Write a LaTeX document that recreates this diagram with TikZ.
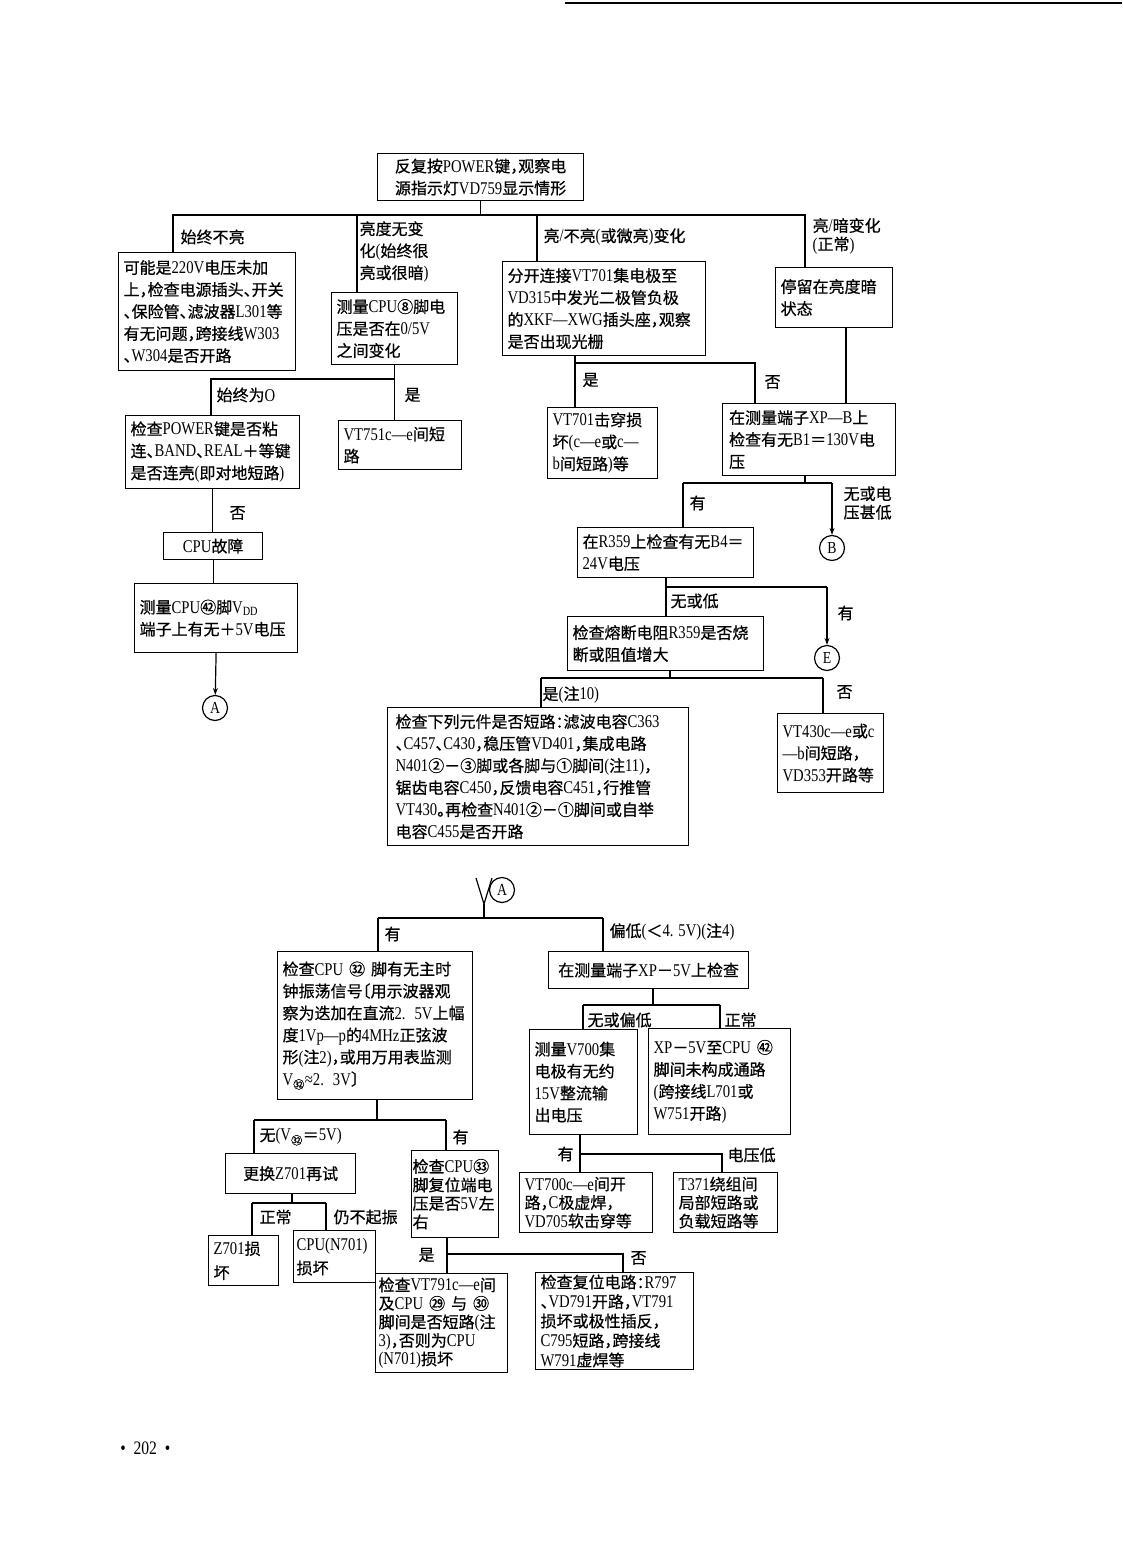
\documentclass[tikz,border=0pt]{standalone}
\usepackage{fontspec}
\setmainfont{Liberation Serif}[Scale=1.12, FakeStretch=0.82]
\newfontfamily\cjk{Noto Sans CJK SC}[RawFeature=+halt, FakeBold=0.6]
\usetikzlibrary{arrows.meta}

%%% CJK characters switch to \cjk, the rest stays in the main font
\newXeTeXintercharclass\cjkclass
\XeTeXinterchartokenstate=1
\newcount\cc
\def\setcjk#1#2{\cc=#1 \loop\XeTeXcharclass\cc=\cjkclass\ifnum\cc<#2 \advance\cc by 1 \repeat}
\setcjk{"4E00}{"9FFF}
\setcjk{"3000}{"303F}
\setcjk{"FF00}{"FFEF}
\setcjk{"2460}{"24FF}
\setcjk{"3200}{"32FF}
\XeTeXinterchartoks 0 \cjkclass = {\cjk}
\XeTeXinterchartoks 4095 \cjkclass = {\cjk}
\XeTeXinterchartoks \cjkclass 0 = {\rmfamily}
\XeTeXinterchartoks \cjkclass 4095 = {\rmfamily}

\newcommand\boxfont{\fontsize{16}{22}\selectfont}
\newcommand\tightfont{\fontsize{16}{18.5}\selectfont}

\begin{document}
\begin{tikzpicture}[%
	x=1pt, y=-1pt,%
	line width=1.2pt,%
	box/.style={draw, anchor=north west, align=left, inner xsep=5pt, inner ysep=2pt, font=\boxfont},%
	cbox/.style={box, align=center},%
	tight/.style={font=\tightfont},%
	lab/.style={anchor=west, inner sep=0pt, align=left, font=\boxfont},%
	joint/.style={circle, draw, minimum size=25pt, inner sep=0pt, font=\fontsize{15}{15}\selectfont},%
	arr/.style={-{Stealth[length=7pt,width=5pt]}},%
	]
\useasboundingbox (0,0) rectangle (1122,1568);
\coordinate (rl) at (565,3);
\coordinate (rr) at (1122,3);
\draw[line width=1.5pt] (rl) -- (rr);
%%% top
	\node[cbox, text width=196pt, minimum height=47pt] (top) at (377,153) {反复按POWER键，观察电\\源指示灯VD759显示情形};
	\node[box, text width=167pt, minimum height=118pt] (nolight) at (118,252) {可能是220V电压未加\\上，检查电源插头、开关\\、保险管、滤波器L301等\\有无问题，跨接线W303\\、W304是否开路};
	\node[box, text width=116pt, minimum height=72pt] (pin8) at (331,292) {测量CPU⑧脚电\\压是否在0/5V\\之间变化};
	\node[box, text width=193pt, minimum height=94pt] (split) at (502,261) {分开连接VT701集电极至\\VD315中发光二极管负极\\的XKF—XWG插头座，观察\\是否出现光栅};
	\node[box, text width=107pt, minimum height=60pt] (dim) at (775,267) {停留在亮度暗\\状态};
	\node[lab] (l1) at (180,237) {始终不亮};
	\node[lab] (l2) at (359,252) {亮度无变\\化(始终很\\亮或很暗)};
	\node[lab] (l3) at (543,237) {亮/不亮(或微亮)变化};
	\node[lab, tight] (l4) at (812,236) {亮/暗变化\\(正常)};
	\coordinate (t1) at (173,215);
	\coordinate (t2) at (357,215);
	\coordinate (t3) at (537,215);
	\coordinate (t4) at (805,215);
	\foreach \co/\nd in {t1/nolight,t2/pin8,t3/split,t4/dim}
		{\draw (top.south) |- (\co) -- (\nd.north -| \co);}
%%% top
%%% left branch
	\node[box, text width=164pt, minimum height=73pt] (power) at (125,415) {检查POWER键是否粘\\连、BAND、REAL＋等键\\是否连壳(即对地短路)};
	\node[box, text width=113pt, minimum height=49pt] (vt751) at (338,420) {VT751c—e间短\\路};
	\node[cbox, text width=89pt, minimum height=27pt] (cpufault) at (163,532) {CPU故障};
	\node[box, text width=153pt, minimum height=69pt] (vdd) at (134,583) {测量CPU㊷脚V\textsubscript{DD}\\端子上有无＋5V电压};
	\node[joint] (cirA) at (215,708) {A};
	\node[lab] (l5) at (216,395) {始终为O};
	\node[lab] (l6) at (404,395) {是};
	\node[lab] (l7) at (229,513) {否};
	\coordinate (p1) at (211,379);
	\draw (pin8.south) |- (p1) -- (power.north -| p1);
	\draw (pin8.south) -- (vt751.north -| pin8.south);
	\draw (power.south) -- (cpufault.north -| power.south);
	\draw (cpufault.south) -- (vdd.north -| cpufault.south);
	\draw[arr] (vdd.south) -- (cirA);
%%% left branch
%%% right branch
	\node[box, text width=100pt, minimum height=71pt] (vt701) at (547,407) {VT701击穿损\\坏(c—e或c—\\b间短路)等};
	\node[box, text width=160pt, minimum height=72pt, inner xsep=6.5pt] (xpb) at (722,403) {在测量端子XP—B上\\检查有无B1＝130V电\\压};
	\node[lab] (l8) at (582,380) {是};
	\node[lab] (l9) at (764,382) {否};
	\coordinate (s1) at (575,363);
	\coordinate (s2) at (755,363);
	\coordinate (dm) at (846,340);
	\draw (split.south -| s1) -- (s1) -- (s2) -- (xpb.north -| s2);
	\draw (s1) -- (vt701.north -| s1);
	\draw (dim.south -| dm) -- (xpb.north -| dm);
	%
	\node[box, text width=166pt, minimum height=50pt] (r359) at (577,527) {在R359上检查有无B4＝\\24V电压};
	\node[joint] (cirB) at (832,548) {B};
	\node[lab] (l10) at (689,503) {有};
	\node[lab, tight] (l11) at (843,503) {无或电\\压甚低};
	\coordinate (x0) at (805,483);
	\coordinate (x1) at (683,483);
	\coordinate (x2) at (832,483);
	\draw (xpb.south -| x0) -- (x0);
	\draw (x1) -- (x2);
	\draw (x1) -- (r359.north -| x1);
	\draw[arr] (x2) -- (cirB);
	%
	\node[box, text width=186pt, minimum height=54pt] (fuse) at (567,616) {检查熔断电阻R359是否烧\\断或阻值增大};
	\node[joint] (cirE) at (827,658) {E};
	\node[lab] (l12) at (670,601) {无或低};
	\node[lab] (l13) at (837,613) {有};
	\coordinate (r1) at (666,587);
	\coordinate (r2) at (827,587);
	\draw (r359.south -| r1) -- (fuse.north -| r1);
	\draw (r1) -- (r2);
	\draw[arr] (r2) -- (cirE);
	%
	\node[box, text width=285pt, minimum height=138pt, inner xsep=8pt] (parts) at (387,707) {检查下列元件是否短路：滤波电容C363\\、C457、C430，稳压管VD401，集成电路\\N401②－③脚或各脚与①脚间(注11)，\\锯齿电容C450，反馈电容C451，行推管\\VT430。再检查N401②－①脚间或自举\\电容C455是否开路};
	\node[box, text width=96pt, minimum height=79pt] (vt430) at (777,713) {VT430c—e或c\\—b间短路，\\VD353开路等};
	\node[lab] (l14) at (542,695) {是(注10)};
	\node[lab] (l15) at (836,692) {否};
	\coordinate (f0) at (670,678);
	\coordinate (f1) at (541,678);
	\coordinate (f2) at (823,678);
	\draw (fuse.south -| f0) -- (f0);
	\draw (f1) -- (f2);
	\draw (f1) -- (parts.north -| f1);
	\draw (f2) -- (vt430.north -| f2);
%%% right branch
%%% from A
	\node[joint] (cirA2) at (502,890) {A};
	\coordinate (ya) at (476,878);
	\coordinate (yb) at (492,878);
	\coordinate (yj) at (484,904);
	\draw (ya) -- (yj) -- (yb);
	\node[box, text width=185pt, minimum height=148pt] (clk) at (277,951) {检查CPU ㉜ 脚有无主时\\钟振荡信号〔用示波器观\\察为迭加在直流2. 5V上幅\\度1Vp—p的4MHz正弦波\\形(注2)，或用万用表监测\\V\textsubscript{㉜}≈2. 3V〕};
	\node[cbox, text width=190pt, minimum height=37pt] (xp5v) at (548,951) {在测量端子XP－5V上检查};
	\node[lab] (l16) at (384,934) {有};
	\node[lab] (l17) at (609,932) {偏低(＜4. 5V)(注4)};
	\coordinate (q1) at (378,918);
	\coordinate (q2) at (603,918);
	\draw (yj) -- (yj |- q1);
	\draw (q1) -- (q2);
	\draw (q1) -- (clk.north -| q1);
	\draw (q2) -- (xp5v.north -| q2);
	%
	\node[box, text width=98pt, minimum height=105pt] (v700) at (529,1029) {测量V700集\\电极有无约\\15V整流输\\出电压};
	\node[box, text width=132pt, minimum height=106pt] (xp42) at (648,1028) {XP－5V至CPU ㊷\\脚间未构成通路\\(跨接线L701或\\W751开路)};
	\node[lab] (l18) at (587,1020) {无或偏低};
	\node[lab] (l19) at (724,1020) {正常};
	\coordinate (u0) at (653,1005);
	\coordinate (u1) at (583,1005);
	\coordinate (u2) at (720,1005);
	\draw (xp5v.south -| u0) -- (u0);
	\draw (u1) -- (u2);
	\draw (u1) -- (v700.north -| u1);
	\draw (u2) -- (xp42.north -| u2);
	%
	\node[box, tight, text width=123pt, minimum height=60pt] (vt700) at (519,1172) {VT700c—e间开\\路，C极虚焊，\\VD705软击穿等};
	\node[box, tight, text width=94pt, minimum height=60pt] (t371) at (673,1172) {T371绕组间\\局部短路或\\负载短路等};
	\node[lab] (l20) at (557,1154) {有};
	\node[lab] (l21) at (727,1155) {电压低};
	\coordinate (w1) at (580,1154);
	\coordinate (w2) at (722,1154);
	\draw (v700.south -| w1) -- (vt700.north -| w1);
	\draw (w1) -- (w2) -- (t371.north -| w2);
	%
	\node[cbox, text width=120pt, minimum height=40pt] (z701try) at (225,1153) {更换Z701再试};
	\node[box, tight, text width=85pt, minimum height=87pt, inner xsep=1pt] (reset33) at (411,1150) {检查CPU㉝\\脚复位端电\\压是否5V左\\右};
	\node[lab] (l22) at (259,1137) {无(V\textsubscript{㉜}＝5V)};
	\node[lab] (l23) at (452,1137) {有};
	\coordinate (c0) at (377,1120);
	\coordinate (c1) at (254,1120);
	\coordinate (c2) at (446,1120);
	\draw (clk.south -| c0) -- (c0);
	\draw (c1) -- (c2);
	\draw (c1) -- (z701try.north -| c1);
	\draw (c2) -- (reset33.north -| c2);
	%
	\node[box, text width=60pt, minimum height=50pt, font=\fontsize{16}{24}\selectfont] (z701bad) at (208,1235) {Z701损\\坏};
	\node[box, text width=76pt, minimum height=52pt, inner xsep=3pt, font=\fontsize{16}{24}\selectfont] (cpubad) at (293,1230) {CPU(N701)\\损坏};
	\node[lab] (l24) at (259,1217) {正常};
	\node[lab] (l25) at (333,1217) {仍不起振};
	\coordinate (z0) at (292,1203);
	\coordinate (z1) at (252,1203);
	\coordinate (z2) at (326,1203);
	\draw (z701try.south -| z0) -- (z0);
	\draw (z1) -- (z2);
	\draw (z1) -- (z701bad.north -| z1);
	\draw (z2) -- (cpubad.north -| z2);
	%
	\node[box, tight, text width=126pt, minimum height=99pt, inner xsep=3pt] (vt791) at (375,1273) {检查VT791c—e间\\及CPU ㉙ 与 ㉚\\脚间是否短路(注\\3)，否则为CPU\\(N701)损坏};
	\node[box, text width=148pt, minimum height=96pt, font=\fontsize{16}{19.5}\selectfont] (resetckt) at (535,1272) {检查复位电路：R797\\、VD791开路，VT791\\损坏或极性插反，\\C795短路，跨接线\\W791虚焊等};
	\node[lab] (l26) at (418,1255) {是};
	\node[lab] (l27) at (630,1258) {否};
	\coordinate (g1) at (447,1254);
	\coordinate (g2) at (623,1254);
	\draw (reset33.south -| g1) -- (vt791.north -| g1);
	\draw (g1) -- (g2) -- (resetckt.north -| g2);
%%% from A
	\node[anchor=west, font=\fontsize{17}{17}\selectfont] (pageno) at (116,1448) {•\ \ 202\ \ •};
\end{tikzpicture}
\end{document}
